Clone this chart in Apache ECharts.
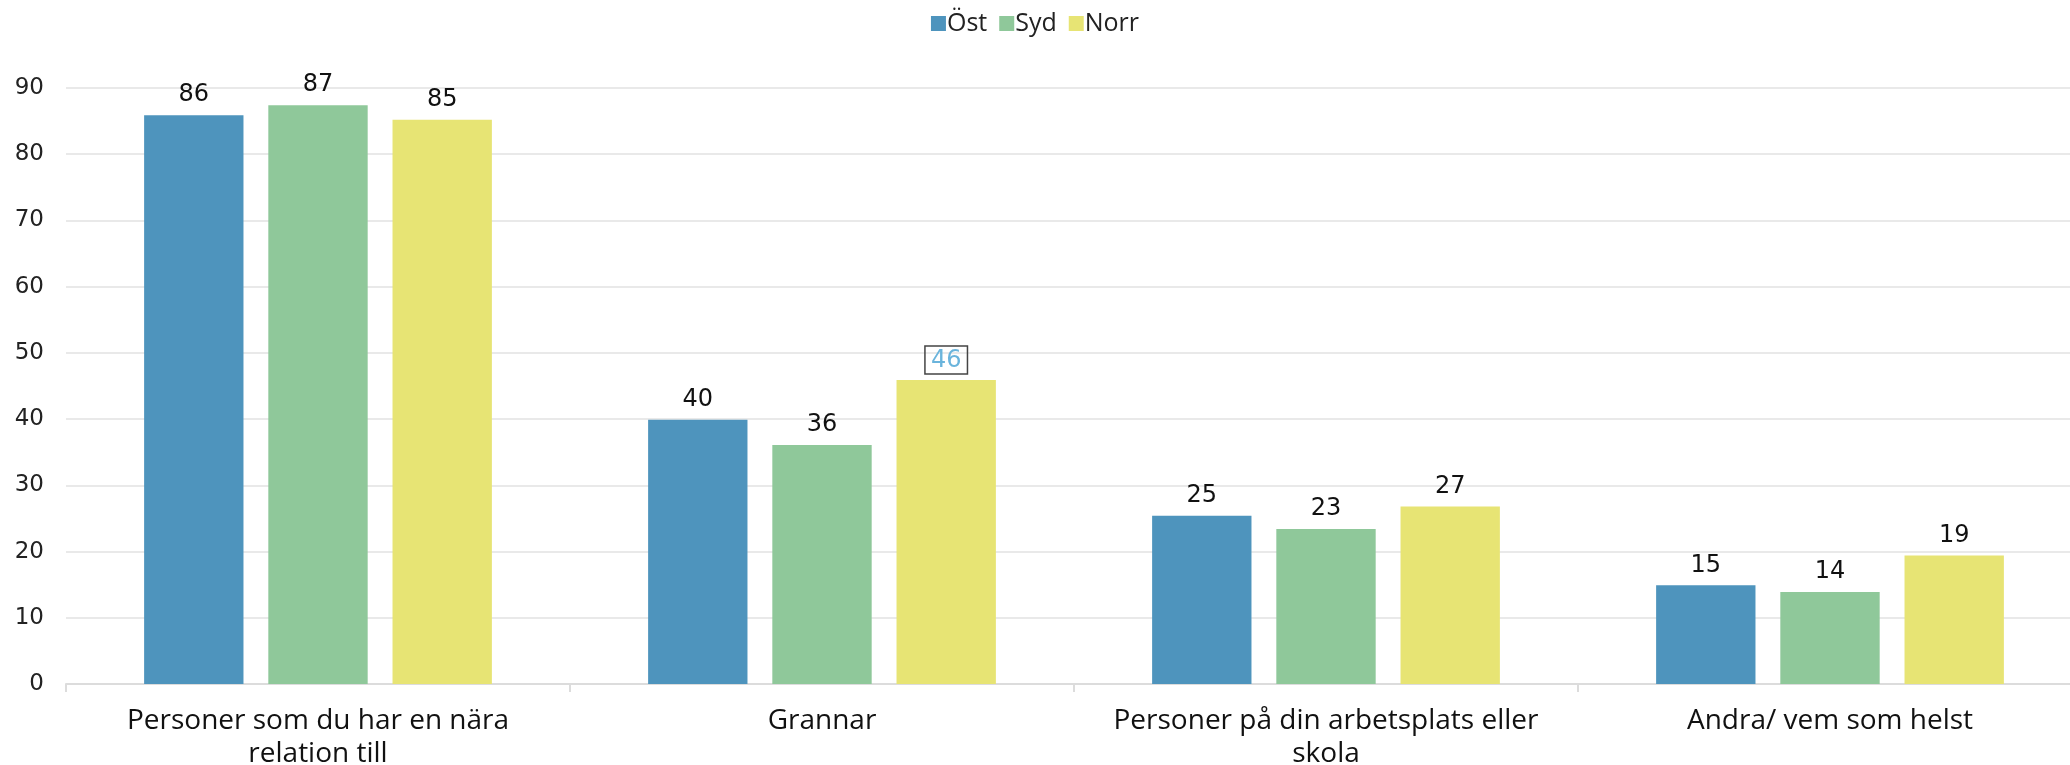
<!DOCTYPE html>
<html>
<head>
<meta charset="utf-8">
<script src="https://cdn.jsdelivr.net/npm/echarts@6/dist/echarts.min.js"></script>
<style>html,body{margin:0;padding:0;background:#fff}#c{width:2070px;height:765px}</style>
</head>
<body>
<div id="c"></div>
<script>
const categories = ["Personer som du har en nära\nrelation till", "Grannar", "Personer på din arbetsplats eller\nskola", "Andra/ vem som helst"];
const seriesNames = ["Öst", "Syd", "Norr"];
const ost = [85.9, 39.9, 25.4, 14.9];
const syd = [87.4, 36.1, 23.4, 13.9];
const norr = [85.2, 45.9, 26.8, 19.4];
const yTicks = [0, 10, 20, 30, 40, 50, 60, 70, 80, 90];
const colors = ["#4e94bd", "#8fc89a", "#e7e474"];
const highlight = {series: 2, index: 1};

const numFont = "'DejaVu Sans', sans-serif";
const txtFont = "'Open Sans', sans-serif";

function makeData(vals, si) {
  return vals.map((v, i) => {
    if (si === highlight.series && i === highlight.index) {
      return {value: v, label: {color: "#6ab4dc", borderColor: "#444", borderWidth: 1.5, padding: [3, 6, 1, 6], distance: 6}};
    }
    return v;
  });
}

const chart = echarts.init(document.getElementById('c'));
chart.setOption({
  animation: false,
  color: colors,
  legend: {
    top: 6, left: 'center', itemWidth: 15, itemHeight: 15, itemGap: 12,
    icon: 'rect',
    textStyle: {fontFamily: txtFont, fontSize: 25, color: '#222', padding: [0, 0, 0, -4]}
  },
  grid: {left: 66, top: 88, width: 2016, height: 596, outerBoundsMode: 'none', containLabel: false},
  xAxis: {
    type: 'category', data: categories,
    axisLine: {lineStyle: {color: '#dcdcdc', width: 2}},
    axisTick: {show: true, length: 8, lineStyle: {color: '#dcdcdc', width: 2}},
    axisLabel: {fontFamily: txtFont, fontSize: 28, color: '#111', lineHeight: 33, margin: 21, interval: 0}
  },
  yAxis: {
    type: 'value', min: yTicks[0], max: yTicks[yTicks.length - 1], interval: 10,
    axisLine: {show: false}, axisTick: {show: false},
    splitLine: {lineStyle: {color: '#e2e2e2', width: 1.5}},
    axisLabel: {fontFamily: numFont, fontSize: 23, color: '#222', margin: 22}
  },
  series: [ost, syd, norr].map((vals, si) => ({
    name: seriesNames[si], type: 'bar', data: makeData(vals, si),
    barGap: '25%', barCategoryGap: '31%',
    label: {show: true, position: 'top', distance: 8, fontFamily: numFont, fontSize: 24, color: '#111',
      formatter: p => Math.round(p.value)}
  }))
});
</script>
</body>
</html>
